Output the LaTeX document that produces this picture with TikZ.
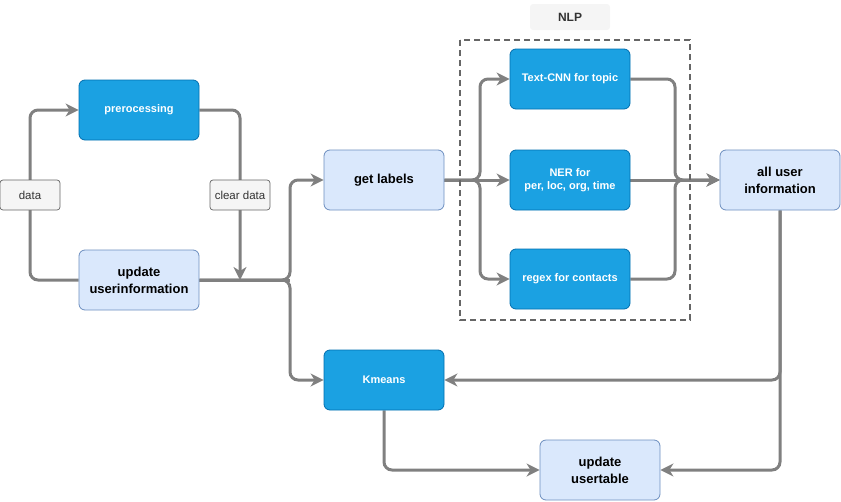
\documentclass[tikz,border=0pt]{standalone}
\usepackage{fontspec}
\setmainfont{Liberation Sans}
\usetikzlibrary{arrows.meta,backgrounds}
\definecolor{dkblue}{HTML}{1BA1E2}
\definecolor{dkblueline}{HTML}{006EAF}
\definecolor{ltblue}{HTML}{DAE8FC}
\definecolor{ltblueline}{HTML}{6C8EBF}
\definecolor{lblfill}{HTML}{F5F5F5}
\definecolor{lblline}{HTML}{666666}
\definecolor{conn}{HTML}{808080}
\definecolor{txtgray}{HTML}{333333}
\tikzset{
  boxbase/.style={rounded corners=6pt, minimum width=120pt, minimum height=60pt, line width=0.8pt, align=center, inner sep=2pt},
  darkbox/.style={boxbase, fill=dkblue, draw=dkblueline, text=white, font=\fontsize{11}{13}\selectfont\bfseries},
  lightbox/.style={boxbase, fill=ltblue, draw=ltblueline, text=black, font=\fontsize{13}{17}\selectfont\bfseries},
  lbl/.style={rounded corners=3pt, minimum width=60pt, minimum height=30pt, fill=lblfill, draw=lblline, line width=0.7pt, text=txtgray, font=\fontsize{11.5}{13}\selectfont, inner sep=1pt},
  conn/.style={draw=conn, line width=3pt, rounded corners=8pt, -{Stealth[length=13pt,width=13pt,inset=4pt]}},
  connplain/.style={draw=conn, line width=3pt, rounded corners=8pt},
}
\begin{document}
\begin{tikzpicture}[x=1pt,y=-1pt]
\useasboundingbox (0,0) rectangle (841,501);
% group
\draw[draw=lblline, line width=1.8pt, dash pattern=on 6pt off 4pt] (460,40) rectangle (690,320);
\node[rounded corners=3pt, fill=lblfill, minimum width=80pt, minimum height=26pt, text=txtgray, font=\fontsize{12}{14}\selectfont\bfseries] (nlp) at (570,17) {NLP};
% nodes
\node[darkbox] (pre) at (139,110) {prerocessing};
\node[lightbox] (upd) at (139,280) {update\\userinformation};
\node[lbl] (data) at (30,195) {data};
\node[lbl] (cd) at (240,195) {clear data};
\node[lightbox] (gl) at (384,180) {get labels};
\node[darkbox] (cnn) at (570,79) {Text-CNN for topic};
\node[darkbox] (ner) at (570,180) {NER for\\per, loc, org, time};
\node[darkbox] (rgx) at (570,279) {regex for contacts};
\node[lightbox] (all) at (780,180) {all user\\information};
\node[darkbox] (km) at (384,380) {Kmeans};
\node[lightbox] (ut) at (600,470) {update\\usertable};
\coordinate (j1) at (290,280);
\coordinate (j2) at (480,180);
\coordinate (j3) at (675,180);
\begin{pgfonlayer}{background}
\draw[conn] (upd.west) -| (data.center) |- (pre.west);
\draw[conn] (pre.east) -| (cd.center) -- (cd.center |- upd.east);
\draw[connplain] (upd.east) -- (j1 |- upd.east);
\draw[conn] (upd.east) -- (j1) |- (gl.west);
\draw[conn] (upd.east) -- (j1) |- (km.west);
\draw[conn] (gl.east) -- (j2) |- (cnn.west);
\draw[conn] (gl.east) -- (ner.west);
\draw[conn] (gl.east) -- (j2) |- (rgx.west);
\draw[conn] (cnn.east) -| (j3) -- (all.west);
\draw[conn] (ner.east) -- (all.west);
\draw[conn] (rgx.east) -| (j3) -- (all.west);
\draw[conn] (all.south) |- (km.east);
\draw[conn] (all.south) |- (ut.east);
\draw[conn] (km.south) |- (ut.west);
\end{pgfonlayer}
\end{tikzpicture}
\end{document}
